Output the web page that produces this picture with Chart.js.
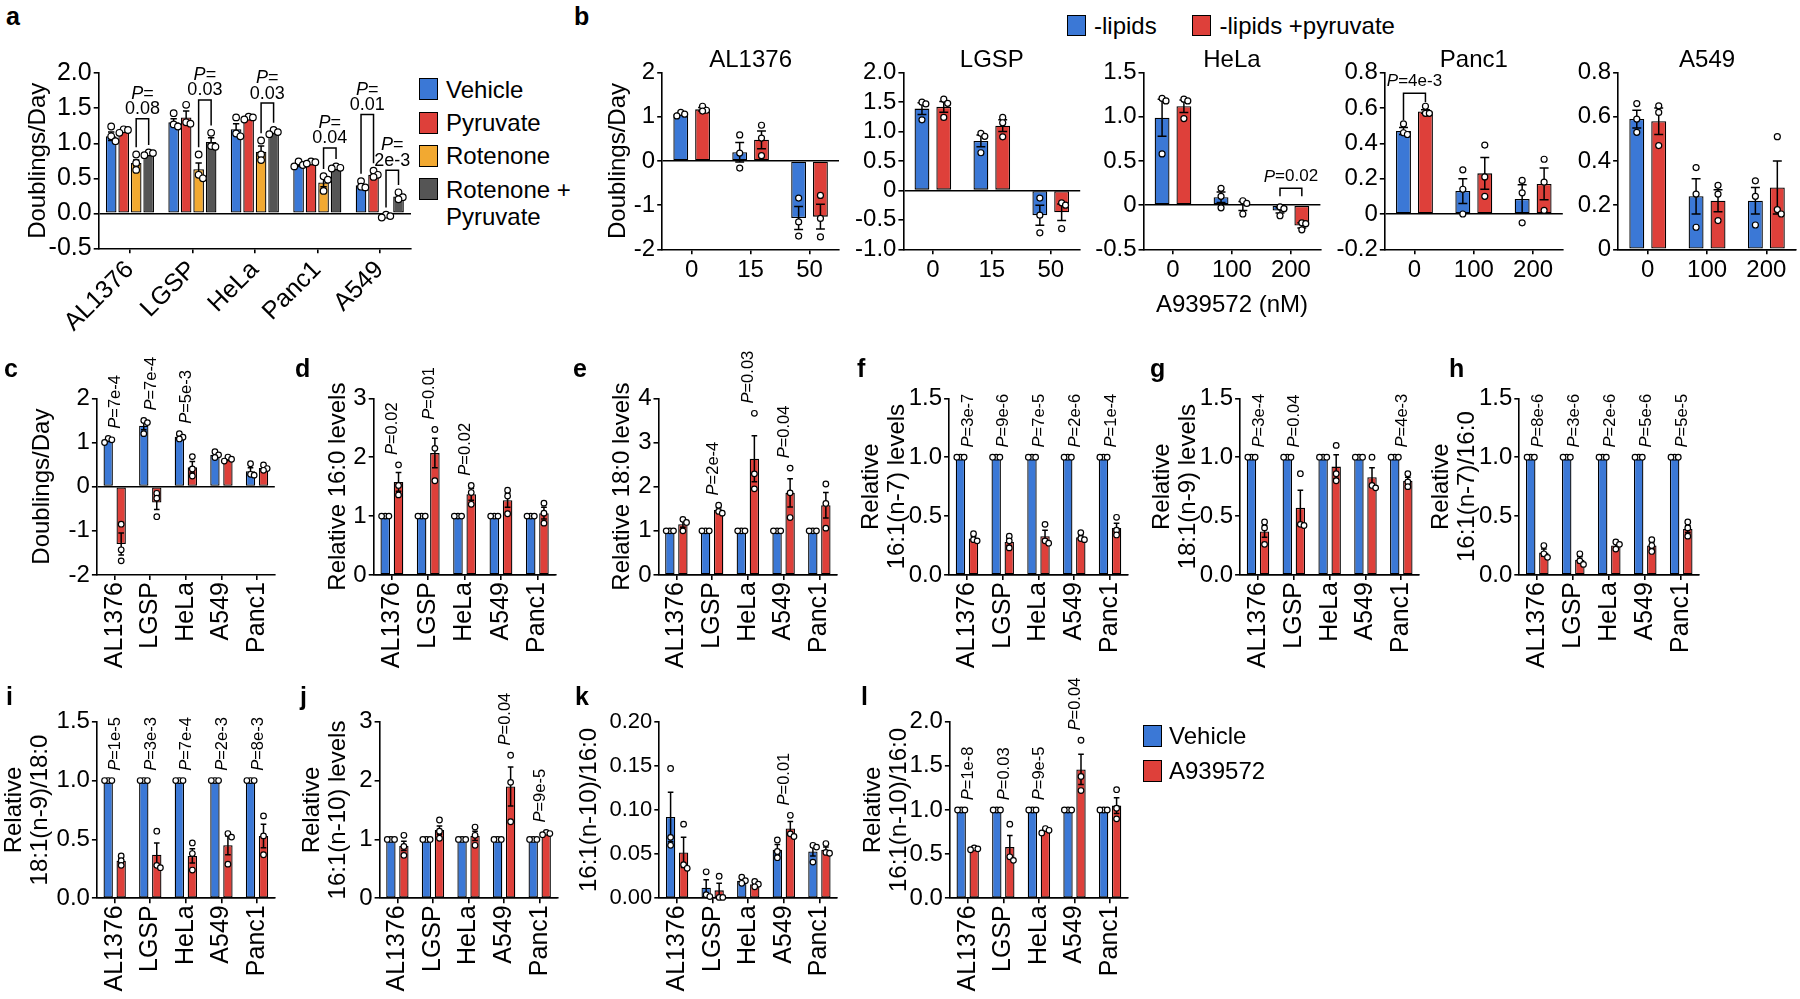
<!DOCTYPE html>
<html>
<head>
<meta charset="utf-8">
<title>Growth and fatty acid panels</title>
<script src="https://cdn.jsdelivr.net/npm/chart.js@4.4.1/dist/chart.umd.min.js"></script>
<style>
  html, body { margin: 0; padding: 0; background: #fff; }
  body { position: relative; width: 1800px; height: 999px; overflow: hidden;
         font-family: 'Liberation Sans', Arial, Helvetica, sans-serif; color: #000; }
  canvas { position: absolute; }
  .tag { position: absolute; font-size: 25px; line-height: 25px; font-weight: bold; }
  .key { position: absolute; box-sizing: border-box; border: 1.5px solid #000; }
  .keytxt { position: absolute; font-size: 24px; white-space: nowrap; }
</style>
</head>
<body>
<script>
const FONT = "'Liberation Sans', Arial, Helvetica, sans-serif";
Chart.defaults.font.family = FONT;
Chart.defaults.color = '#000';

const BLUE = '#3b78d6', RED = '#de403a', ORANGE = '#f2a931', GRAY = '#555555';

// ---------- a: doublings/day, rotenone +/- pyruvate ----------
const aCells = ['AL1376', 'LGSP', 'HeLa', 'Panc1', 'A549'];
const aTicks = ['-0.5', '0.0', '0.5', '1.0', '1.5', '2.0'];
const aVehicle = [1.10, 1.30, 1.20, 0.69, 0.40];
const aVehicleErr = [0.06, 0.05, 0.08, 0.02, 0.03];
const aVehiclePts = [[1.24, 1.10, 1.03], [1.43, 1.27, 1.24], [1.37, 1.14, 1.10], [0.74, 0.69, 0.67], [0.46, 0.38, 0.37]];
const aPyruvate = [1.18, 1.37, 1.36, 0.72, 0.55];
const aPyruvateErr = [0.02, 0.09, 0.01, 0.01, 0.03];
const aPyruvatePts = [[1.20, 1.19, 1.15], [1.55, 1.30, 1.28], [1.38, 1.37, 1.34], [0.74, 0.73, 0.71], [0.61, 0.55, 0.52]];
const aRotenone = [0.72, 0.63, 0.88, 0.44, -0.04];
const aRotenoneErr = [0.04, 0.09, 0.08, 0.06, 0.01];
const aRotenonePts = [[0.84, 0.72, 0.62], [0.84, 0.55, 0.50], [1.04, 0.84, 0.76], [0.53, 0.48, 0.32], [-0.02, -0.04, -0.06]];
const aRotPyr = [0.85, 1.02, 1.16, 0.65, 0.24];
const aRotPyrErr = [0.02, 0.06, 0.02, 0.01, 0.03];
const aRotPyrPts = [[0.87, 0.86, 0.83], [1.15, 0.96, 0.95], [1.19, 1.16, 1.13], [0.67, 0.65, 0.64], [0.30, 0.23, 0.20]];
const aPText = ['0.08', '0.03', '0.03', '0.04', '0.01', '2e-3'];

// ---------- b: A939572 dose, -lipids vs -lipids +pyruvate ----------
const bDosesLow = ['0', '15', '50'];
const bDosesHigh = ['0', '100', '200'];
const bAL1376Lip = [1.06, 0.20, -1.29];
const bAL1376LipErr = [0.02, 0.22, 0.26];
const bAL1376LipPts = [[1.10, 1.06, 1.02], [0.59, 0.18, -0.16], [-0.84, -1.38, -1.70]];
const bAL1376Pyr = [1.17, 0.48, -1.26];
const bAL1376PyrErr = [0.04, 0.20, 0.28];
const bAL1376PyrPts = [[1.24, 1.15, 1.13], [0.81, 0.52, 0.12], [-0.78, -1.30, -1.72]];
const bLGSPLip = [1.39, 0.84, -0.42];
const bLGSPLipErr = [0.10, 0.10, 0.17];
const bLGSPLipPts = [[1.50, 1.47, 1.20], [0.97, 0.92, 0.64], [-0.13, -0.42, -0.72]];
const bLGSPPyr = [1.42, 1.10, -0.37];
const bLGSPPyrErr = [0.09, 0.10, 0.14];
const bLGSPPyrPts = [[1.55, 1.48, 1.24], [1.24, 1.15, 0.91], [-0.21, -0.25, -0.65]];
const bHeLaLip = [0.99, 0.09, -0.06];
const bHeLaLipErr = [0.21, 0.06, 0.03];
const bHeLaLipPts = [[1.21, 1.18, 0.58], [0.19, 0.10, -0.03], [-0.02, -0.04, -0.12]];
const bHeLaPyr = [1.12, -0.01, -0.23];
const bHeLaPyrErr = [0.07, 0.05, 0.03];
const bHeLaPyrPts = [[1.20, 1.18, 0.98], [0.05, 0.02, -0.10], [-0.20, -0.21, -0.28]];
const bPanc1Lip = [0.47, 0.13, 0.085];
const bPanc1LipErr = [0.02, 0.07, 0.08];
const bPanc1LipPts = [[0.51, 0.46, 0.45], [0.25, 0.14, 0.00], [0.19, 0.12, -0.05]];
const bPanc1Pyr = [0.58, 0.23, 0.17];
const bPanc1PyrErr = [0.01, 0.09, 0.09];
const bPanc1PyrPts = [[0.61, 0.57, 0.57], [0.39, 0.21, 0.10], [0.31, 0.18, 0.02]];
const bA549Lip = [0.59, 0.24, 0.22];
const bA549LipErr = [0.04, 0.08, 0.06];
const bA549LipPts = [[0.66, 0.59, 0.53], [0.37, 0.25, 0.10], [0.31, 0.24, 0.11]];
const bA549Pyr = [0.58, 0.22, 0.28];
const bA549PyrErr = [0.06, 0.05, 0.12];
const bA549PyrPts = [[0.65, 0.62, 0.47], [0.29, 0.25, 0.13], [0.51, 0.18, 0.16]];
const bHeLaP = '0.02';
const bPanc1P = '4e-3';

// ---------- c-l: vehicle vs A939572 ----------
const cells = ['AL1376', 'LGSP', 'HeLa', 'A549', 'Panc1'];
const normVeh = [1, 1, 1, 1, 1];
const normVehErr = [0, 0, 0, 0, 0];
const normVehPts = [[1, 1, 1], [1, 1, 1], [1, 1, 1], [1, 1, 1], [1, 1, 1]];

const cVeh = [1.05, 1.38, 1.13, 0.72, 0.35];
const cVehErr = [0.03, 0.09, 0.04, 0.04, 0.08];
const cVehPts = [[1.09, 1.06, 1.00], [1.50, 1.45, 1.20], [1.20, 1.12, 1.08], [0.79, 0.72, 0.66], [0.52, 0.28, 0.26]];
const cDrug = [-1.30, -0.36, 0.44, 0.62, 0.42];
const cDrugErr = [0.25, 0.16, 0.13, 0.03, 0.04];
const cDrugPts = [[-0.85, -1.43, -1.68], [-0.15, -0.26, -0.68], [0.68, 0.40, 0.24], [0.67, 0.62, 0.58], [0.49, 0.41, 0.37]];
const cP = ['7e-4', '7e-4', '5e-3', null, null];

const dDrug = [1.58, 2.07, 1.37, 1.27, 1.05];
const dDrugErr = [0.16, 0.25, 0.10, 0.12, 0.10];
const dDrugPts = [[1.87, 1.52, 1.36], [2.47, 2.15, 1.60], [1.52, 1.40, 1.20], [1.44, 1.34, 1.04], [1.22, 1.05, 0.88]];
const dP = ['0.02', '0.01', '0.02', null, null];

const eDrug = [1.15, 1.47, 2.63, 1.86, 1.58];
const eDrugErr = [0.07, 0.05, 0.52, 0.32, 0.29];
const eDrugPts = [[1.26, 1.19, 1.00], [1.58, 1.44, 1.40], [3.66, 2.29, 1.95], [2.42, 1.86, 1.30], [2.06, 1.62, 1.06]];
const eP = [null, '2e-4', '0.03', '0.04', null];

const fDrug = [0.31, 0.28, 0.33, 0.32, 0.40];
const fDrugErr = [0.02, 0.03, 0.05, 0.02, 0.04];
const fDrugPts = [[0.35, 0.30, 0.29], [0.33, 0.29, 0.23], [0.43, 0.29, 0.27], [0.36, 0.31, 0.30], [0.49, 0.38, 0.34]];
const fP = ['3e-7', '9e-6', '7e-5', '2e-6', '1e-4'];

const gDrug = [0.37, 0.57, 0.92, 0.83, 0.80];
const gDrugErr = [0.05, 0.15, 0.10, 0.08, 0.03];
const gDrugPts = [[0.45, 0.40, 0.26], [0.86, 0.43, 0.42], [1.10, 0.86, 0.80], [1.00, 0.76, 0.74], [0.86, 0.79, 0.75]];
const gP = ['3e-4', '0.04', null, null, '4e-3'];

const hDrug = [0.19, 0.13, 0.25, 0.25, 0.39];
const hDrugErr = [0.03, 0.025, 0.02, 0.03, 0.03];
const hDrugPts = [[0.25, 0.18, 0.15], [0.18, 0.12, 0.09], [0.28, 0.26, 0.22], [0.30, 0.25, 0.20], [0.45, 0.40, 0.33]];
const hP = ['8e-6', '3e-6', '2e-6', '5e-6', '5e-5'];

const iDrug = [0.32, 0.37, 0.36, 0.45, 0.53];
const iDrugErr = [0.02, 0.10, 0.06, 0.08, 0.10];
const iDrugPts = [[0.36, 0.32, 0.28], [0.57, 0.28, 0.26], [0.47, 0.38, 0.24], [0.55, 0.52, 0.29], [0.70, 0.53, 0.37]];
const iP = ['1e-5', '3e-3', '7e-4', '2e-3', '8e-3'];

const jDrug = [0.89, 1.16, 1.06, 1.90, 1.10];
const jDrugErr = [0.08, 0.07, 0.08, 0.33, 0.01];
const jDrugPts = [[1.07, 0.88, 0.73], [1.33, 1.14, 1.02], [1.21, 1.07, 0.90], [2.43, 1.97, 1.30], [1.12, 1.10, 1.08]];
const jP = [null, null, null, '0.04', '9e-5'];

const kVeh = [0.092, 0.012, 0.020, 0.055, 0.053];
const kVehErr = [0.028, 0.009, 0.002, 0.006, 0.005];
const kVehPts = [[0.147, 0.069, 0.060], [0.030, 0.004, 0.002], [0.024, 0.020, 0.017], [0.066, 0.053, 0.046], [0.060, 0.058, 0.041]];
const kDrug = [0.052, 0.009, 0.016, 0.079, 0.055];
const kDrugErr = [0.017, 0.008, 0.002, 0.008, 0.003];
const kDrugPts = [[0.084, 0.038, 0.034], [0.025, 0.001, 0.001], [0.019, 0.016, 0.013], [0.094, 0.073, 0.070], [0.062, 0.052, 0.051]];
const kP = [null, null, null, '0.01', null];

const lDrug = [0.56, 0.58, 0.77, 1.46, 1.05];
const lDrugErr = [0.01, 0.13, 0.01, 0.17, 0.09];
const lDrugPts = [[0.57, 0.56, 0.55], [0.84, 0.47, 0.43], [0.79, 0.77, 0.74], [1.79, 1.38, 1.22], [1.23, 1.02, 0.90]];
const lP = ['1e-8', '0.03', '9e-5', '0.04', null];

// ---------- drawing helpers ----------
function drawP(ctx, txt, x, y, size, align) {
  const it = 'italic ' + size + 'px ' + FONT, rg = size + 'px ' + FONT;
  ctx.font = it;
  const wP = ctx.measureText('P').width;
  ctx.font = rg;
  const rest = '=' + txt;
  const wR = ctx.measureText(rest).width;
  const x0 = align === 'center' ? x - (wP + wR) / 2 : x;
  ctx.textAlign = 'left';
  ctx.textBaseline = 'middle';
  ctx.fillStyle = '#000';
  ctx.font = it;
  ctx.fillText('P', x0, y);
  ctx.font = rg;
  ctx.fillText(rest, x0 + wP, y);
}

function topOf(ds, j) {
  return Math.max(ds.data[j] + (ds.err[j] || 0), ...ds.pts[j]);
}

// spread replicate dots sideways only when they would sit on top of each other
function placeDots(vals, ys, r) {
  const step = r * 1.3, minDy = r * 1.6;
  const items = vals.map(v => ({ py: ys.getPixelForValue(v) })).sort((p, q) => p.py - q.py);
  const placed = [];
  items.forEach(item => {
    for (const k of [0, 1, -1, 2, -2, 3, -3]) {
      const dx = k * step;
      if (placed.every(p => Math.abs(p.py - item.py) >= minDy || Math.abs(p.dx - dx) >= step * 0.99)) {
        item.dx = dx;
        break;
      }
    }
    if (item.dx === undefined) item.dx = 0;
    placed.push(item);
  });
  return placed;
}

function extras(o) {
  return {
    id: 'extras',
    afterDatasetsDraw(chart) {
      const ctx = chart.ctx, xs = chart.scales.x, ys = chart.scales.y, ca = chart.chartArea;
      const r = o.dotR;
      ctx.save();
      ctx.strokeStyle = '#000';
      ctx.lineWidth = 1.5;
      // SEM bars
      chart.data.datasets.forEach((ds, i) => {
        chart.getDatasetMeta(i).data.forEach((bar, j) => {
          const e = ds.err[j], m = ds.data[j];
          if (!(e > 0)) return;
          const yHi = ys.getPixelForValue(m + e), yLo = ys.getPixelForValue(m - e);
          const cw = bar.width * 0.3;
          ctx.beginPath();
          ctx.moveTo(bar.x, yHi); ctx.lineTo(bar.x, yLo);
          ctx.moveTo(bar.x - cw, yHi); ctx.lineTo(bar.x + cw, yHi);
          ctx.moveTo(bar.x - cw, yLo); ctx.lineTo(bar.x + cw, yLo);
          ctx.stroke();
        });
      });
      // replicate dots
      ctx.lineWidth = 1.2;
      chart.data.datasets.forEach((ds, i) => {
        chart.getDatasetMeta(i).data.forEach((bar, j) => {
          placeDots(ds.pts[j], ys, r).forEach(p => {
            ctx.beginPath();
            ctx.arc(bar.x + p.dx, p.py, r, 0, Math.PI * 2);
            ctx.fillStyle = '#fff';
            ctx.fill();
            ctx.stroke();
          });
        });
      });
      // bracketed P values
      ctx.lineWidth = 1.5;
      (o.brackets || []).forEach(b => {
        const dsA = chart.data.datasets[b.a], dsB = chart.data.datasets[b.b];
        const ea = chart.getDatasetMeta(b.a).data[b.cat], eb = chart.getDatasetMeta(b.b).data[b.cat];
        const yT = ys.getPixelForValue(b.level);
        const cap = b.legMax ? yT + b.legMax : Infinity;
        const legA = Math.min(ys.getPixelForValue(topOf(dsA, b.cat)) - r - o.legGap, cap);
        const legB = Math.min(ys.getPixelForValue(topOf(dsB, b.cat)) - r - o.legGap, cap);
        ctx.strokeStyle = '#000';
        ctx.beginPath();
        ctx.moveTo(ea.x, legA); ctx.lineTo(ea.x, yT); ctx.lineTo(eb.x, yT); ctx.lineTo(eb.x, legB);
        ctx.stroke();
        const cx = (ea.x + eb.x) / 2;
        if (o.pTwoLine) {
          drawP(ctx, '', cx, yT - 25, o.pSize, 'center');
          ctx.font = o.pSize + 'px ' + FONT;
          ctx.textAlign = 'center';
          ctx.fillText(b.text, cx, yT - 9.5);
        } else {
          drawP(ctx, b.text, cx, yT - 11.6, o.pSize, 'center');
        }
      });
      // vertical P values above groups
      (o.pRot || []).forEach((txt, j) => {
        if (!txt) return;
        let maxV = -Infinity;
        chart.data.datasets.forEach(ds => { maxV = Math.max(maxV, topOf(ds, j)); });
        const py = ys.getPixelForValue(maxV) - r - 7;
        const px = xs.getPixelForValue(j) + 1;
        ctx.save();
        ctx.translate(px, py);
        ctx.rotate(-Math.PI / 2);
        drawP(ctx, txt, 0, 0, 16.5, 'left');
        ctx.restore();
      });
      // small-multiple heading
      if (o.heading) {
        ctx.font = '24px ' + FONT;
        ctx.fillStyle = '#000';
        ctx.textAlign = 'center';
        ctx.textBaseline = 'middle';
        ctx.fillText(o.heading, (ca.left + ca.right) / 2, ca.top - 12);
      }
      ctx.restore();
    }
  };
}

function barPanel(o) {
  const lh = 24 * 1.08;
  const left = Math.round(o.titleX !== undefined ? o.titleX - lh / 2 - 2 : o.x0 - o.yW);
  const top = Math.round(o.yTop - o.topPad);
  const yW = o.x0 - left;
  const padTop = o.yTop - top;
  const plotW = o.x1 - o.x0, plotH = o.yBot - o.yTop;
  const w = Math.ceil(yW + plotW + (o.rightPad || 18));
  const h = Math.ceil(padTop + plotH + (o.xH || 100));
  const padRight = w - yW - plotW;
  const xH = h - padTop - plotH;

  const cv = document.createElement('canvas');
  cv.width = w;
  cv.height = h;
  cv.style.left = left + 'px';
  cv.style.top = top + 'px';
  document.body.appendChild(cv);

  const ticks = o.ticks;
  new Chart(cv, {
    type: 'bar',
    data: {
      labels: o.labels,
      datasets: o.series.map(s => ({
        label: s.label,
        data: s.data,
        err: s.err,
        pts: s.pts,
        backgroundColor: s.color,
        borderColor: '#000',
        borderWidth: 1.3,
        borderSkipped: false,
        categoryPercentage: o.catPct,
        barPercentage: o.barPct
      }))
    },
    options: {
      responsive: false,
      animation: false,
      events: [],
      layout: { padding: { left: 0, top: padTop, right: padRight, bottom: 0 } },
      plugins: { legend: { display: false }, tooltip: { enabled: false } },
      scales: {
        x: {
          grid: { offset: false, drawOnChartArea: false, drawTicks: true, tickLength: 5, color: '#000', lineWidth: 1.6 },
          border: { display: true, color: '#000', width: 1.6 },
          ticks: { autoSkip: false, minRotation: o.rot, maxRotation: o.rot, padding: 2, font: { size: o.xFont } },
          title: o.xTitle ? { display: true, text: o.xTitle, font: { size: 24 }, padding: { top: 0, bottom: 2 } } : { display: false },
          afterFit: s => { s.height = xH; }
        },
        y: {
          min: parseFloat(ticks[0]),
          max: parseFloat(ticks[ticks.length - 1]),
          afterBuildTicks: s => { s.ticks = ticks.map(t => ({ value: parseFloat(t) })); },
          grid: {
            drawOnChartArea: true, drawTicks: true, tickLength: 5, lineWidth: 1.6, tickColor: '#000',
            color: c => (c.tick && c.tick.value === 0) ? '#000' : 'rgba(0,0,0,0)'
          },
          border: { display: true, color: '#000', width: 1.6 },
          ticks: { autoSkip: false, padding: 2, font: { size: o.yFont }, callback: (v, i) => ticks[i] },
          title: o.yTitle ? { display: true, text: o.yTitle, font: { size: 24, lineHeight: 1.08 }, padding: { top: 2, bottom: 0 } } : { display: false },
          afterFit: s => { s.width = yW; }
        }
      }
    },
    plugins: [extras(o)]
  });
}

function tag(letter, x, baseline) {
  const d = document.createElement('div');
  d.className = 'tag';
  d.textContent = letter;
  d.style.left = x + 'px';
  d.style.top = (baseline - 21.2) + 'px';
  document.body.appendChild(d);
}

function keyItem(bx, by, bw, bh, color, tx, lines) {
  const b = document.createElement('div');
  b.className = 'key';
  b.style.left = bx + 'px';
  b.style.top = by + 'px';
  b.style.width = bw + 'px';
  b.style.height = bh + 'px';
  b.style.background = color;
  document.body.appendChild(b);
  const t = document.createElement('div');
  t.className = 'keytxt';
  t.style.left = tx + 'px';
  t.style.lineHeight = '27.7px';
  t.style.top = (by + bh / 2 - 13.6) + 'px';
  t.innerHTML = lines.join('<br>');
  document.body.appendChild(t);
}

// ---------- row 1 ----------
barPanel({
  x0: 98.7, x1: 411, yTop: 73.3, yBot: 248.3, topPad: 30, xH: 100, rightPad: 6,
  titleX: 38.3, yTitle: 'Doublings/Day', labels: aCells, ticks: aTicks,
  rot: 45, xFont: 25, yFont: 25, catPct: 0.80, barPct: 0.85, dotR: 3.3,
  pSize: 18, pTwoLine: true, legGap: 4,
  series: [
    { label: 'Vehicle', data: aVehicle, err: aVehicleErr, pts: aVehiclePts, color: BLUE },
    { label: 'Pyruvate', data: aPyruvate, err: aPyruvateErr, pts: aPyruvatePts, color: RED },
    { label: 'Rotenone', data: aRotenone, err: aRotenoneErr, pts: aRotenonePts, color: ORANGE },
    { label: 'Rotenone + Pyruvate', data: aRotPyr, err: aRotPyrErr, pts: aRotPyrPts, color: GRAY }
  ],
  brackets: [
    { cat: 0, a: 2, b: 3, level: 1.35, text: aPText[0] },
    { cat: 1, a: 2, b: 3, level: 1.62, text: aPText[1] },
    { cat: 2, a: 2, b: 3, level: 1.575, text: aPText[2] },
    { cat: 3, a: 2, b: 3, level: 0.934, text: aPText[3] },
    { cat: 4, a: 0, b: 1, level: 1.41, text: aPText[4] },
    { cat: 4, a: 2, b: 3, level: 0.616, text: aPText[5] }
  ]
});

const bCommon = { yTop: 72.7, yBot: 249.3, topPad: 30, xH: 45, rightPad: 4, rot: 0, xFont: 24, yFont: 24,
  catPct: 0.74, barPct: 0.68, dotR: 3, pSize: 17, legGap: 1 };
function bSeries(lip, lipErr, lipPts, pyr, pyrErr, pyrPts) {
  return [
    { label: '-lipids', data: lip, err: lipErr, pts: lipPts, color: BLUE },
    { label: '-lipids +pyruvate', data: pyr, err: pyrErr, pts: pyrPts, color: RED }
  ];
}
barPanel(Object.assign({}, bCommon, {
  x0: 662.2, x1: 839, titleX: 617.6, yTitle: 'Doublings/Day', heading: 'AL1376',
  labels: bDosesLow, ticks: ['-2', '-1', '0', '1', '2'],
  series: bSeries(bAL1376Lip, bAL1376LipErr, bAL1376LipPts, bAL1376Pyr, bAL1376PyrErr, bAL1376PyrPts)
}));
barPanel(Object.assign({}, bCommon, {
  x0: 903.4, x1: 1080.2, yW: 60, heading: 'LGSP',
  labels: bDosesLow, ticks: ['-1.0', '-0.5', '0', '0.5', '1.0', '1.5', '2.0'],
  series: bSeries(bLGSPLip, bLGSPLipErr, bLGSPLipPts, bLGSPPyr, bLGSPPyrErr, bLGSPPyrPts)
}));
barPanel(Object.assign({}, bCommon, {
  x0: 1143.5, x1: 1320.4, yW: 60, heading: 'HeLa', xTitle: 'A939572 (nM)', xH: 72,
  labels: bDosesHigh, ticks: ['-0.5', '0', '0.5', '1.0', '1.5'],
  series: bSeries(bHeLaLip, bHeLaLipErr, bHeLaLipPts, bHeLaPyr, bHeLaPyrErr, bHeLaPyrPts),
  brackets: [{ cat: 2, a: 0, b: 1, level: 0.19, text: bHeLaP, legMax: 8 }]
}));
barPanel(Object.assign({}, bCommon, {
  x0: 1384.8, x1: 1562.8, yW: 60, heading: 'Panc1',
  labels: bDosesHigh, ticks: ['-0.2', '0', '0.2', '0.4', '0.6', '0.8'],
  series: bSeries(bPanc1Lip, bPanc1LipErr, bPanc1LipPts, bPanc1Pyr, bPanc1PyrErr, bPanc1PyrPts),
  brackets: [{ cat: 0, a: 0, b: 1, level: 0.683, text: bPanc1P }]
}));
barPanel(Object.assign({}, bCommon, {
  x0: 1618.1, x1: 1796, yW: 50, heading: 'A549',
  labels: bDosesHigh, ticks: ['0', '0.2', '0.4', '0.6', '0.8'],
  series: bSeries(bA549Lip, bA549LipErr, bA549LipPts, bA549Pyr, bA549PyrErr, bA549PyrPts)
}));

// ---------- rows 2 and 3 ----------
function vdSeries(veh, vehErr, vehPts, drug, drugErr, drugPts) {
  return [
    { label: 'Vehicle', data: veh, err: vehErr, pts: vehPts, color: BLUE },
    { label: 'A939572', data: drug, err: drugErr, pts: drugPts, color: RED }
  ];
}
const row2 = { yTop: 398.3, yBot: 575, topPad: 58, xH: 100, rightPad: 18, rot: 90, xFont: 25, yFont: 24,
  catPct: 0.73, barPct: 0.72, dotR: 2.8, labels: cells };
const row3 = Object.assign({}, row2, { yTop: 721.7, yBot: 898.3, topPad: 44 });
const t15 = ['0.0', '0.5', '1.0', '1.5'];

barPanel(Object.assign({}, row2, { x0: 96.9, x1: 274.8, titleX: 41.5, yTitle: 'Doublings/Day',
  ticks: ['-2', '-1', '0', '1', '2'], pRot: cP,
  series: vdSeries(cVeh, cVehErr, cVehPts, cDrug, cDrugErr, cDrugPts) }));
barPanel(Object.assign({}, row2, { x0: 373.7, x1: 555.5, titleX: 338, yTitle: 'Relative 16:0 levels',
  ticks: ['0', '1', '2', '3'], pRot: dP,
  series: vdSeries(normVeh, normVehErr, normVehPts, dDrug, dDrugErr, dDrugPts) }));
barPanel(Object.assign({}, row2, { x0: 658.5, x1: 837.2, titleX: 621.7, yTitle: 'Relative 18:0 levels',
  ticks: ['0', '1', '2', '3', '4'], pRot: eP,
  series: vdSeries(normVeh, normVehErr, normVehPts, eDrug, eDrugErr, eDrugPts) }));
barPanel(Object.assign({}, row2, { x0: 949.1, x1: 1127.9, titleX: 871, yTitle: ['Relative', '16:1(n-7) levels'],
  ticks: t15, pRot: fP,
  series: vdSeries(normVeh, normVehErr, normVehPts, fDrug, fDrugErr, fDrugPts) }));
barPanel(Object.assign({}, row2, { x0: 1240.1, x1: 1419.2, titleX: 1161.5, yTitle: ['Relative', '18:1(n-9) levels'],
  ticks: t15, pRot: gP,
  series: vdSeries(normVeh, normVehErr, normVehPts, gDrug, gDrugErr, gDrugPts) }));
barPanel(Object.assign({}, row2, { x0: 1519.3, x1: 1699.2, titleX: 1441, yTitle: ['Relative', '16:1(n-7)/16:0'],
  ticks: t15, pRot: hP,
  series: vdSeries(normVeh, normVehErr, normVehPts, hDrug, hDrugErr, hDrugPts) }));

barPanel(Object.assign({}, row3, { x0: 96.9, x1: 274.8, titleX: 13.8, yTitle: ['Relative', '18:1(n-9)/18:0'],
  ticks: t15, pRot: iP,
  series: vdSeries(normVeh, normVehErr, normVehPts, iDrug, iDrugErr, iDrugPts) }));
barPanel(Object.assign({}, row3, { x0: 379.6, x1: 557.5, titleX: 312, yTitle: ['Relative', '16:1(n-10) levels'],
  ticks: ['0', '1', '2', '3'], pRot: jP,
  series: vdSeries(normVeh, normVehErr, normVehPts, jDrug, jDrugErr, jDrugPts) }));
barPanel(Object.assign({}, row3, { x0: 659.3, x1: 837.2, titleX: 589, yTitle: '16:1(n-10)/16:0', yFont: 22,
  ticks: ['0.00', '0.05', '0.10', '0.15', '0.20'], pRot: kP,
  series: vdSeries(kVeh, kVehErr, kVehPts, kDrug, kDrugErr, kDrugPts) }));
barPanel(Object.assign({}, row3, { x0: 949.9, x1: 1127.9, titleX: 873, yTitle: ['Relative', '16:1(n-10)/16:0'],
  ticks: ['0.0', '0.5', '1.0', '1.5', '2.0'], pRot: lP,
  series: vdSeries(normVeh, normVehErr, normVehPts, lDrug, lDrugErr, lDrugPts) }));

// ---------- panel letters and keys ----------
[['a', 6, 25], ['b', 574, 25], ['c', 4, 376.7], ['d', 295, 376.7], ['e', 573, 376.7], ['f', 857, 376.7],
 ['g', 1150, 376.7], ['h', 1449, 376.7], ['i', 6, 705], ['j', 300, 705], ['k', 575, 705], ['l', 861, 705]]
  .forEach(t => tag(t[0], t[1], t[2]));

keyItem(419, 78.3, 19, 22, BLUE, 446, ['Vehicle']);
keyItem(419, 111.7, 19, 22, RED, 446, ['Pyruvate']);
keyItem(419, 145, 19, 22, ORANGE, 446, ['Rotenone']);
keyItem(419, 178.3, 19, 22, GRAY, 446, ['Rotenone +', 'Pyruvate']);

keyItem(1067, 15, 18.5, 21, BLUE, 1094, ['-lipids']);
keyItem(1192, 15, 18.5, 21, RED, 1219.5, ['-lipids +pyruvate']);

keyItem(1142.5, 725, 19, 21.7, BLUE, 1169, ['Vehicle']);
keyItem(1142.5, 760, 19, 21.7, RED, 1169, ['A939572']);
</script>
</body>
</html>
